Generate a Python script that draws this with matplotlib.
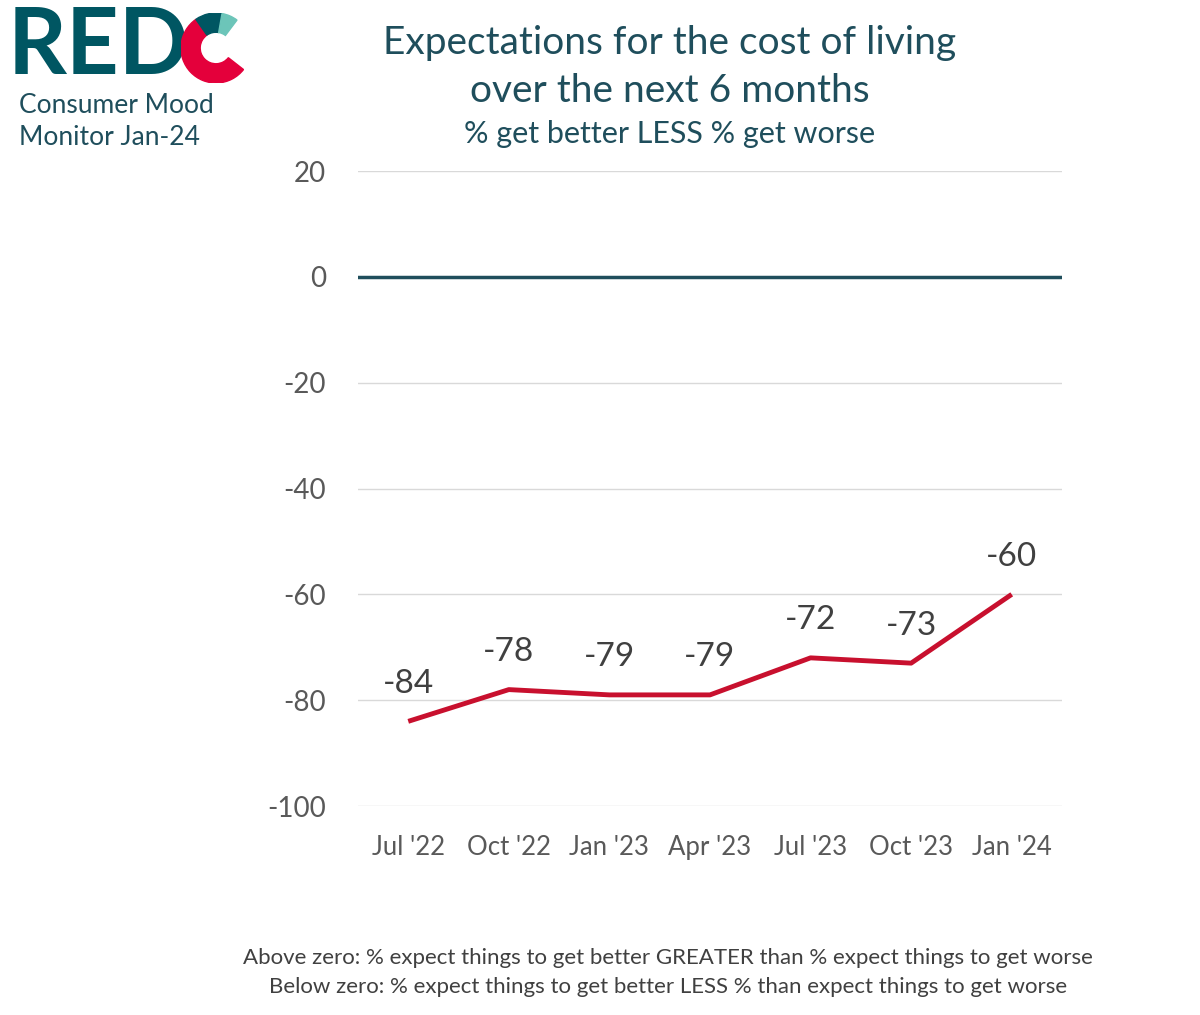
import matplotlib
matplotlib.use("Agg")
import matplotlib.pyplot as plt
from matplotlib.patches import Wedge

# chart data
quarters = ["Jul '22", "Oct '22", "Jan '23", "Apr '23", "Jul '23", "Oct '23", "Jan '24"]
net_score = [-84, -78, -79, -79, -72, -73, -60]
y_ticks = [20, 0, -20, -40, -60, -80, -100]

plt.rcParams['font.family'] = ['Lato', 'DejaVu Sans']

teal = '#1f4e5c'
red = '#c8102e'

fig = plt.figure(figsize=(12, 10.15), dpi=100)

# main line chart
ax = fig.add_axes([0.2983, 0.2059, 0.5867, 0.6256])
x = list(range(len(quarters)))
ax.plot(x, net_score, color=red, lw=3.5, solid_capstyle='butt', zorder=3)
for xi, v in zip(x, net_score):
    ax.annotate(str(v), (xi, v), xytext=(0, 27), textcoords='offset points',
                ha='center', va='center', fontsize=24, color='#404040')

ax.set_xlim(-0.5, len(quarters) - 0.5)
ax.set_ylim(-100, 20)
ax.set_yticks(y_ticks)
ax.set_yticklabels([str(t) for t in y_ticks])
ax.set_xticks(x)
ax.set_xticklabels(quarters)
ax.tick_params(axis='y', length=0, pad=23, labelsize=20, labelcolor='#595959')
ax.tick_params(axis='x', length=0, pad=21, labelsize=18.5, labelcolor='#595959')
for t in y_ticks:
    if t == 0:
        ax.axhline(t, color=teal, lw=2.5, zorder=2)
    else:
        ax.axhline(t, color='#d9d9d9', lw=1, zorder=1)
for s in ax.spines.values():
    s.set_visible(False)

# titles
fig.text(0.558, 0.958, "Expectations for the cost of living", ha='center', va='center',
         fontsize=28, color=teal)
fig.text(0.558, 0.910, "over the next 6 months", ha='center', va='center',
         fontsize=28, color=teal)
fig.text(0.558, 0.868, "% get better LESS % get worse", ha='center', va='center',
         fontsize=22, color=teal)

# footnote
fig.text(0.557, 0.056, "Above zero: % expect things to get better GREATER than % expect things to get worse",
         ha='center', va='center', fontsize=16, color='#404040')
fig.text(0.557, 0.028, "Below zero: % expect things to get better LESS % than expect things to get worse",
         ha='center', va='center', fontsize=16, color='#404040')

# logo: "RED" text plus a ring-shaped "C"
fig.text(0.006, 0.953, "RED", ha='left', va='center', fontsize=66, fontweight='bold',
         color='#005662')
logo = fig.add_axes([0.1508, 0.9182, 0.0583, 0.069])
logo.set_zorder(10)
logo.set_xlim(-1, 1)
logo.set_ylim(-1, 1)
logo.set_aspect('equal')
logo.axis('off')
logo.add_patch(Wedge((0, 0), 1, 125, 322, width=0.55, color='#e4003b'))
logo.add_patch(Wedge((0, 0), 1, 80, 125, width=0.55, color='#005662'))
logo.add_patch(Wedge((0, 0), 1, 53, 80, width=0.55, color='#6cc5b9'))

fig.text(0.016, 0.896, "Consumer Mood", ha='left', va='center', fontsize=19, color=teal)
fig.text(0.016, 0.865, "Monitor Jan-24", ha='left', va='center', fontsize=19, color=teal)

fig.savefig("out.png", dpi=100, facecolor='white')
